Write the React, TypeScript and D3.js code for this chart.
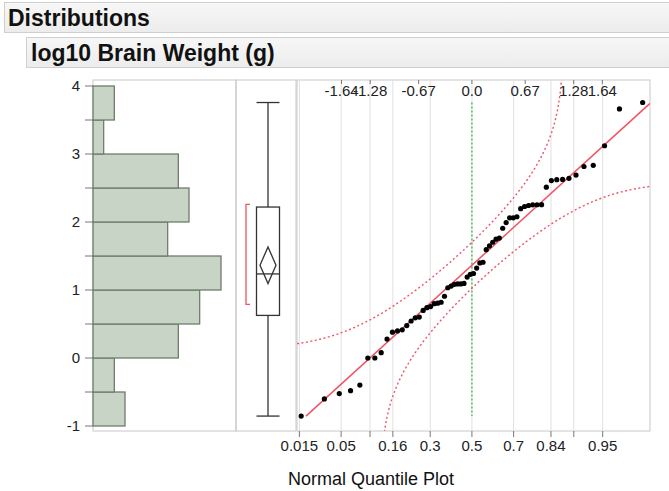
import React from "react";
import * as d3 from "d3";

// log10 brain weight (g), sorted
const brainLog10 = [
  -0.854, -0.602, -0.523, -0.481, -0.398, 0, 0, 0.079, 0.279, 0.38, 0.398, 0.415, 0.477,
  0.544, 0.591, 0.602, 0.699, 0.74, 0.756, 0.799, 0.806, 0.82, 0.908,
  1.033, 1.057, 1.083, 1.09, 1.09, 1.097, 1.19, 1.23, 1.243, 1.322, 1.398, 1.408,
  1.593, 1.648, 1.702, 1.748, 1.763, 1.908, 1.992,
  2.061, 2.061, 2.077, 2.196, 2.228, 2.243, 2.253, 2.254, 2.255,
  2.512, 2.609, 2.622, 2.626, 2.643, 2.69, 2.816, 2.833,
  3.121, 3.663, 3.757,
];

// shortest half bracket as shown
const shortestHalf = [0.79, 2.26];

const binEdges = [-1, -0.5, 0, 0.5, 1, 1.5, 2, 2.5, 3, 3.5, 4];
const yTickValues = [-1, -0.5, 0, 0.5, 1, 1.5, 2, 2.5, 3, 3.5, 4];
const yTickLabels = ["-1", "", "0", "", "1", "", "2", "", "3", "", "4"];
const topQuantiles = [-1.64, -1.28, -0.67, 0, 0.67, 1.28, 1.64];
const topLabels = ["-1.64", "-1.28", "-0.67", "0.0", "0.67", "1.28", "1.64"];
const probTicks = [0.015, 0.05, 0.1, 0.16, 0.3, 0.5, 0.7, 0.84, 0.9, 0.95];
const probLabels = ["0.015", "0.05", "", "0.16", "0.3", "0.5", "0.7", "0.84", "", "0.95"];

const FONT = "'Liberation Sans', Arial, Helvetica, sans-serif";
const RED = "#ee5566";

// inverse normal cdf (Acklam)
function qnorm(p: number) {
  const a = [-39.69683028665376, 220.9460984245205, -275.9285104469687, 138.357751867269, -30.66479806614716, 2.506628277459239];
  const b = [-54.47609879822406, 161.5858368580409, -155.6989798598866, 66.80131188771972, -13.28068155288572];
  const c = [-0.007784894002430293, -0.3223964580411365, -2.400758277161838, -2.549732539343734, 4.374664141464968, 2.938163982698783];
  const d = [0.007784695709041462, 0.3224671290700398, 2.445134137142996, 3.754408661907416];
  const plow = 0.02425;
  if (p < plow) {
    const q = Math.sqrt(-2 * Math.log(p));
    return (((((c[0] * q + c[1]) * q + c[2]) * q + c[3]) * q + c[4]) * q + c[5]) / ((((d[0] * q + d[1]) * q + d[2]) * q + d[3]) * q + 1);
  }
  if (p > 1 - plow) {
    const q = Math.sqrt(-2 * Math.log(1 - p));
    return -(((((c[0] * q + c[1]) * q + c[2]) * q + c[3]) * q + c[4]) * q + c[5]) / ((((d[0] * q + d[1]) * q + d[2]) * q + d[3]) * q + 1);
  }
  const q = p - 0.5;
  const r = q * q;
  return ((((((a[0] * r + a[1]) * r + a[2]) * r + a[3]) * r + a[4]) * r + a[5]) * q) / (((((b[0] * r + b[1]) * r + b[2]) * r + b[3]) * r + b[4]) * r + 1);
}

function pnorm(x: number) {
  const t = 1 / (1 + 0.2316419 * Math.abs(x));
  const dd = 0.3989423 * Math.exp((-x * x) / 2);
  const p = dd * t * (0.3193815 + t * (-0.3565638 + t * (1.781478 + t * (-1.821256 + t * 1.330274))));
  return x > 0 ? 1 - p : p;
}

export default function App() {
  const n = brainLog10.length;
  const mean = d3.mean(brainLog10)!;
  const sd = d3.deviation(brainLog10)!;
  const min = d3.min(brainLog10)!;
  const max = d3.max(brainLog10)!;
  const q1 = d3.quantile(brainLog10, 0.25)!;
  const q3 = d3.quantile(brainLog10, 0.75)!;
  const med = d3.median(brainLog10)!;
  const ci = (2.0 * sd) / Math.sqrt(n);

  const frameTop = 80, frameBottom = 431;
  const histLeft = 93, histRight = 236, boxRight = 297, qLeft = 297, qRight = 650;

  const y = d3.scaleLinear().domain([-1, 4]).range([426, 86]);
  const bins = d3.bin().domain([-1, 4]).thresholds(binEdges.slice(1, -1))(brainLog10);
  const xCount = d3.scaleLinear().domain([0, 12]).range([histLeft, histLeft + 128]);

  const z = d3.scaleLinear().domain([-2.2, 2.24]).range([qLeft, qRight]);

  const pts = brainLog10.map((v, i) => ({ v, q: qnorm((i + 1) / (n + 1)) }));

  const D = 0.125;
  const zGrid = d3.range(-2.2, 2.2401, 0.01);
  const upper = zGrid.map((zz) => {
    const p = pnorm(zz) + D;
    return p < 1 ? [zz, mean + sd * qnorm(p)] : null;
  }).filter(Boolean) as [number, number][];
  const lower = zGrid.map((zz) => {
    const p = pnorm(zz) - D;
    return p > 0 ? [zz, mean + sd * qnorm(p)] : null;
  }).filter(Boolean) as [number, number][];
  const bandLine = d3.line<[number, number]>().x((d) => z(d[0])).y((d) => y(d[1]));

  const zStart = (min - mean) / sd;
  const zEnd = Math.min((max - mean) / sd, 2.24);

  const bx = 268; // box center
  const bw = 11.5;

  return (
    <svg width={669} height={491} style={{ position: "absolute", left: 0, top: 0, background: "#fff" }} fontFamily={FONT}>
      <defs>
        <linearGradient id="hdr" x1="0" y1="0" x2="0" y2="1">
          <stop offset="0" stopColor="#f7f7f7" />
          <stop offset="1" stopColor="#ececec" />
        </linearGradient>
        <clipPath id="qclip">
          <rect x={qLeft} y={frameTop} width={qRight - qLeft} height={frameBottom - frameTop} />
        </clipPath>
      </defs>

      {/* headers */}
      <rect x={4.5} y={2.5} width={680} height={30} fill="url(#hdr)" stroke="#cfcfcf" />
      <text x={8} y={26} fontSize={23} fontWeight="bold" fill="#111">Distributions</text>
      <rect x={26.5} y={37.5} width={660} height={30} fill="url(#hdr)" stroke="#cfcfcf" />
      <text x={31} y={61} fontSize={23} fontWeight="bold" fill="#111">log10 Brain Weight (g)</text>

      {/* frames */}
      <rect x={histLeft} y={frameTop} width={histRight - histLeft} height={frameBottom - frameTop} fill="none" stroke="#c8c8c8" />
      <rect x={histRight} y={frameTop} width={boxRight - 1 - histRight} height={frameBottom - frameTop} fill="none" stroke="#c8c8c8" />

      {/* histogram */}
      {bins.map((b, i) => (
        <rect key={i} x={histLeft} y={y(b.x1!)} width={xCount(b.length) - histLeft} height={y(b.x0!) - y(b.x1!)}
          fill="#c8d4c5" stroke="#6e7d6c" strokeWidth={1.3} />
      ))}

      {/* y axis */}
      {yTickValues.map((v, i) => (
        <g key={i}>
          <line x1={85} x2={histLeft} y1={y(v)} y2={y(v)} stroke="#777" />
          {yTickLabels[i] && (
            <text x={80} y={y(v)} dy="0.35em" textAnchor="end" fontSize={15} fill="#222">{yTickLabels[i]}</text>
          )}
        </g>
      ))}

      {/* box plot */}
      <line x1={bx} x2={bx} y1={y(max)} y2={y(q3)} stroke="#333" strokeWidth={1.3} />
      <line x1={bx} x2={bx} y1={y(q1)} y2={y(min)} stroke="#333" strokeWidth={1.3} />
      <line x1={bx - bw} x2={bx + bw} y1={y(max)} y2={y(max)} stroke="#333" strokeWidth={1.3} />
      <line x1={bx - bw} x2={bx + bw} y1={y(min)} y2={y(min)} stroke="#333" strokeWidth={1.3} />
      <rect x={bx - bw} y={y(q3)} width={bw * 2} height={y(q1) - y(q3)} fill="none" stroke="#333" strokeWidth={1.3} />
      <line x1={bx - bw} x2={bx + bw} y1={y(med)} y2={y(med)} stroke="#333" strokeWidth={1.3} />
      <path d={`M${bx},${y(mean + ci)} L${bx + 8},${y(mean)} L${bx},${y(mean - ci)} L${bx - 8},${y(mean)} Z`}
        fill="none" stroke="#333" strokeWidth={1.3} />
      <path d={`M250,${y(shortestHalf[1])} H246 V${y(shortestHalf[0])} H250`} fill="none" stroke={RED} strokeWidth={1.3} />

      {/* quantile plot */}
      <rect x={qLeft} y={frameTop} width={qRight - qLeft} height={frameBottom - frameTop} fill="none" stroke="#c8c8c8" />
      {probTicks.map((p, i) => (
        <g key={i}>
          <line x1={z(qnorm(p))} x2={z(qnorm(p))} y1={frameTop} y2={frameBottom} stroke="#e0e0e0" />
          <line x1={z(qnorm(p))} x2={z(qnorm(p))} y1={frameBottom} y2={frameBottom + 6} stroke="#777" />
          {probLabels[i] && (
            <text x={z(qnorm(p))} y={451} textAnchor="middle" fontSize={15} fill="#222">{probLabels[i]}</text>
          )}
        </g>
      ))}
      {topQuantiles.map((q, i) => (
        <g key={i}>
          <line x1={z(q)} x2={z(q)} y1={frameTop} y2={frameTop + 4} stroke="#777" />
          <text x={z(q)} y={96} textAnchor="middle" fontSize={15} fill="#222">{topLabels[i]}</text>
        </g>
      ))}
      <line x1={z(0)} x2={z(0)} y1={y(max)} y2={y(min)} stroke="#33bb44" strokeWidth={1.3} strokeDasharray="2,2" />
      <g clipPath="url(#qclip)">
        <path d={bandLine(upper)!} fill="none" stroke={RED} strokeWidth={1.4} strokeDasharray="2,2.5" />
        <path d={bandLine(lower)!} fill="none" stroke={RED} strokeWidth={1.4} strokeDasharray="2,2.5" />
        <line x1={z(zStart)} x2={z(zEnd)} y1={y(mean + sd * zStart)} y2={y(mean + sd * zEnd)} stroke={RED} strokeWidth={1.5} />
      </g>
      {pts.map((d, i) => (
        <circle key={i} cx={z(d.q)} cy={y(d.v)} r={2.6} fill="#000" />
      ))}

      <text x={288} y={485} fontSize={18} fill="#111">Normal Quantile Plot</text>
    </svg>
  );
}
